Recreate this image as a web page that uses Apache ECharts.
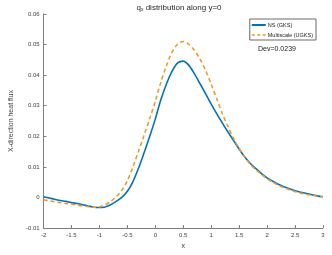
<!DOCTYPE html>
<html><head><meta charset="utf-8">
<script src="https://cdn.jsdelivr.net/npm/echarts@6/dist/echarts.min.js"></script>
<style>html,body{margin:0;padding:0;background:#fff}#c{width:332px;height:255px}</style>
</head><body><div id="c"></div>
<script>
const xs = [-2.0,-1.9,-1.8,-1.7,-1.6,-1.5,-1.4,-1.3,-1.2,-1.1,-1.0,-0.9,-0.8,-0.7,-0.6,-0.5,-0.4,-0.3,-0.2,-0.1,0.0,0.1,0.2,0.3,0.4,0.5,0.6,0.7,0.8,0.9,1.0,1.1,1.2,1.3,1.4,1.5,1.6,1.7,1.8,1.9,2.0,2.1,2.2,2.3,2.4,2.5,2.6,2.7,2.8,2.9,3.0];
const nsGKS = [0.0002,-0.0002,-0.0006,-0.0010,-0.0013,-0.0017,-0.0020,-0.0024,-0.0028,-0.0032,-0.0033,-0.0031,-0.0024,-0.0013,0.0000,0.0020,0.0052,0.0096,0.0147,0.0200,0.0257,0.0320,0.0372,0.0413,0.0440,0.0446,0.0432,0.0404,0.0372,0.0339,0.0305,0.0273,0.0243,0.0214,0.0186,0.0158,0.0132,0.0111,0.0094,0.0078,0.0064,0.0053,0.0043,0.0035,0.0028,0.0022,0.0017,0.0013,0.0009,0.0005,0.0002];
const multiUGKS = [-0.0008,-0.0011,-0.0014,-0.0017,-0.0020,-0.0022,-0.0025,-0.0028,-0.0030,-0.0032,-0.0031,-0.0024,-0.0013,0.0002,0.0023,0.0055,0.0100,0.0152,0.0204,0.0258,0.0315,0.0378,0.0432,0.0475,0.0502,0.0510,0.0501,0.0481,0.0452,0.0415,0.0370,0.0322,0.0273,0.0232,0.0193,0.0160,0.0132,0.0108,0.0091,0.0075,0.0061,0.0050,0.0040,0.0032,0.0025,0.0019,0.0014,0.0010,0.0007,0.0004,0.0002];
const seriesNames = ['NS (GKS)','Multiscale (UGKS)'];
const devText = 'Dev=0.0239';

const font = 'Liberation Sans, Arial, sans-serif';
const chart = echarts.init(document.getElementById('c'));
const axisCol = '#808080';
const txtCol = '#404040';
const blue = '#0072BD', orange = '#EE9A2A';
chart.setOption({
  animation:false,
  title:{text:'q{s|x} distribution along y=0', left:174, top:-2, textAlign:'center',
    textStyle:{fontFamily:font,fontSize:8,fontWeight:'normal',color:'#262626',
      rich:{s:{fontSize:5,verticalAlign:'bottom',padding:[4,0,0,0],fontFamily:font,color:'#262626'}}}},
  grid:{left:25,right:9,top:14,bottom:20,containLabel:false},
  legend:{right:16,top:19,orient:'vertical',itemWidth:14,itemHeight:2,itemGap:4,
    borderColor:'#444',borderWidth:0.8,padding:[3,3,2,2],backgroundColor:'#fff',
    textStyle:{fontFamily:font,fontSize:5.5,color:'#222',padding:[0,0,0,-3]},
    data:[{name:seriesNames[0],icon:'rect',itemStyle:{color:blue}},
          {name:seriesNames[1],icon:'path://M0,0h4v2h-4zM7,0h4v2h-4zM14,0h4v2h-4z',itemStyle:{color:orange}}]},
  xAxis:{type:'value',min:-2,max:3,interval:0.5,name:'x',nameLocation:'middle',nameGap:15,
    nameTextStyle:{fontFamily:font,fontSize:7,color:txtCol},
    axisLine:{onZero:false,lineStyle:{color:axisCol,width:1}},
    axisTick:{inside:true,length:3,lineStyle:{color:axisCol}},
    axisLabel:{fontFamily:font,fontSize:6,color:txtCol,margin:4,formatter:v=>String(+v.toFixed(1))},
    splitLine:{show:false}},
  yAxis:{type:'value',min:-0.01,max:0.06,interval:0.01,name:'X-direction heat flux',nameLocation:'middle',nameGap:21,
    nameTextStyle:{fontFamily:font,fontSize:7,color:txtCol},
    axisLine:{show:true,onZero:false,lineStyle:{color:axisCol,width:1}},
    axisTick:{show:true,inside:true,length:3,lineStyle:{color:axisCol}},
    axisLabel:{fontFamily:font,fontSize:6,color:txtCol,margin:4,formatter:v=>String(+v.toFixed(2))},
    splitLine:{show:false}},
  graphic:[{type:'text',left:258,top:46,style:{text:devText,font:'7px '+font,fill:'#222'}}],
  series:[
    {name:seriesNames[0],type:'line',data:xs.map((x,i)=>[x,nsGKS[i]]),smooth:0.3,symbol:'none',
      lineStyle:{color:blue,width:1.6},itemStyle:{color:blue}},
    {name:seriesNames[1],type:'line',data:xs.map((x,i)=>[x,multiUGKS[i]]),smooth:0.3,symbol:'none',
      lineStyle:{color:orange,width:1.6,type:[4,3]},itemStyle:{color:orange}}
  ]
});
</script></body></html>
